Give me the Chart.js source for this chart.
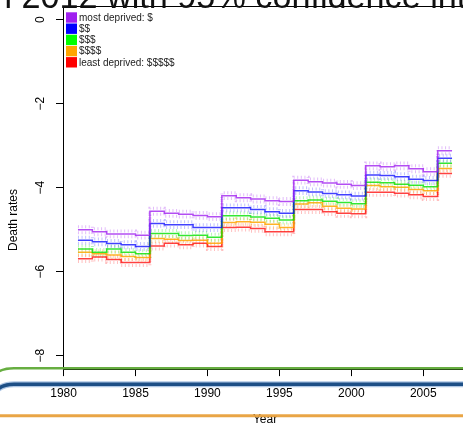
<!DOCTYPE html>
<html><head><meta charset="utf-8">
<script src="https://cdn.jsdelivr.net/npm/chart.js@4/dist/chart.umd.min.js"></script>
<style>
html,body{margin:0;padding:0;background:#fff;overflow:hidden;width:463px;height:423px}
#wrap{position:absolute;left:0;top:0;width:480px;height:430px}
</style></head><body>
<div id="wrap"><canvas id="c"></canvas></div>
<script>
// Step start years; the final entry closes the last step.
const years = [1981,1982,1983,1984,1985,1986,1987,1988,1989,1990,1991,1992,1993,1994,1995,
               1996,1997,1998,1999,2000,2001,2002,2003,2004,2005,2006,2007];

const seriesNames = ['most deprived: $', '$$', '$$$', '$$$$', 'least deprived: $$$$$'];

// Log death rates by deprivation quintile, one value per year 1981-2006
const quintile1 = [-5.00,-5.05,-5.10,-5.10,-5.13, -4.56,-4.61,-4.63,-4.66,-4.69, -4.19,-4.24,-4.27,-4.31,-4.33,
                   -3.82,-3.86,-3.89,-3.92,-3.95, -3.48,-3.50,-3.48,-3.55,-3.62, -3.12];
const quintile2 = [-5.25,-5.29,-5.33,-5.36,-5.40, -4.85,-4.88,-4.88,-4.95,-4.95, -4.48,-4.48,-4.52,-4.57,-4.61,
                   -4.07,-4.10,-4.14,-4.17,-4.20, -3.70,-3.71,-3.74,-3.80,-3.83, -3.30];
const quintile3 = [-5.46,-5.54,-5.46,-5.54,-5.57, -5.09,-5.09,-5.14,-5.13,-5.18, -4.67,-4.67,-4.70,-4.73,-4.77,
                   -4.31,-4.29,-4.32,-4.35,-4.38, -3.87,-3.88,-3.92,-3.94,-3.98, -3.42];
const quintile4 = [-5.54,-5.57,-5.60,-5.64,-5.66, -5.21,-5.23,-5.26,-5.25,-5.32, -4.83,-4.81,-4.82,-4.87,-4.95,
                   -4.39,-4.36,-4.44,-4.49,-4.51, -3.95,-3.98,-3.99,-4.04,-4.07, -3.54];
const quintile5 = [-5.69,-5.65,-5.71,-5.78,-5.78, -5.39,-5.32,-5.36,-5.32,-5.40, -4.95,-4.94,-4.97,-5.05,-5.05,
                   -4.52,-4.52,-4.57,-4.61,-4.62, -4.11,-4.11,-4.13,-4.17,-4.21, -3.66];

// Half-width of the 95% confidence band for each quintile
const ciHalfWidth = [0.07, 0.07, 0.07, 0.07, 0.07];

const xTickValues = [1980, 1985, 1990, 1995, 2000, 2005];
const xTickLabels = ['1980', '1985', '1990', '1995', '2000', '2005'];
const yTickValues = [0, -2, -4, -6, -8];
const yTickLabels = ['0', '\u22122', '\u22124', '\u22126', '\u22128'];

const lineColors = ['rgba(160,32,240,0.8)', 'rgba(0,0,255,0.75)', 'rgba(0,225,0,0.8)', 'rgba(255,165,0,0.85)', 'rgba(255,0,0,0.75)'];
const ciColors   = ['rgba(160,32,240,0.3)', 'rgba(0,0,255,0.25)', 'rgba(0,225,0,0.3)', 'rgba(255,165,0,0.35)', 'rgba(255,0,0,0.25)'];
const swatchColors = ['#A020F0', '#0000FF', '#00FF00', '#FFA500', '#FF0000'];

const allSeries = [quintile1, quintile2, quintile3, quintile4, quintile5];

function toPoints(vals, shift) {
  return years.map((yr, i) => ({ x: yr, y: vals[Math.min(i, vals.length - 1)] + shift }));
}

const datasets = [];
allSeries.forEach((vals, k) => {
  datasets.push({ label: seriesNames[k], data: toPoints(vals, 0), borderColor: lineColors[k],
    borderWidth: 1.5, stepped: 'before', pointRadius: 0, order: 0 });
});
allSeries.forEach((vals, k) => {
  [1, -1].forEach(sgn => {
    datasets.push({ label: '', data: toPoints(vals, sgn * ciHalfWidth[k]), borderColor: ciColors[k],
      borderWidth: 3, borderDash: [1, 2.6], stepped: 'before', pointRadius: 0, order: 1 });
  });
});

const FONT = '"Liberation Sans", Arial, Helvetica, sans-serif';

const decor = {
  id: 'decor',
  afterDraw(chart) {
    const ctx = chart.ctx, a = chart.chartArea, ys = chart.scales.y;
    ctx.save();
    // plot frame
    ctx.strokeStyle = '#000'; ctx.lineWidth = 1;
    ctx.strokeRect(Math.round(a.left) + 0.5, Math.round(a.top) + 0.5, Math.round(a.right - a.left), Math.round(a.bottom - a.top));

    // y tick labels, rotated
    ctx.fillStyle = '#000';
    ctx.font = '12px ' + FONT;
    ctx.textAlign = 'center'; ctx.textBaseline = 'middle';
    yTickValues.forEach((v, i) => {
      const py = ys.getPixelForValue(v);
      ctx.save(); ctx.translate(41, py); ctx.rotate(-Math.PI / 2);
      ctx.fillText(yTickLabels[i], 0, 0); ctx.restore();
    });
    // y axis title
    ctx.font = '12px ' + FONT;
    ctx.save(); ctx.translate(14, 220); ctx.rotate(-Math.PI / 2);
    ctx.fillText('Death rates', 0, 0); ctx.restore();

    // legend
    ctx.font = '10px ' + FONT;
    ctx.textAlign = 'left'; ctx.textBaseline = 'middle';
    seriesNames.forEach((name, i) => {
      const cy = 17.5 + i * 11.2;
      ctx.fillStyle = swatchColors[i];
      ctx.fillRect(66, cy - 5.2, 11, 10.4);
      ctx.fillStyle = '#222';
      ctx.fillText(name, 79, cy + 0.5);
    });

    // heading, sized so its lead-in runs across the page
    ctx.font = '30px ' + FONT;
    const lead = 'n 2012 with 95% confidence ';
    const size = 30 * 437 / ctx.measureText(lead).width;
    ctx.font = size.toFixed(1) + 'px ' + FONT;
    ctx.fillStyle = '#111';
    ctx.textAlign = 'left'; ctx.textBaseline = 'alphabetic';
    const head = 'in 2012 with 95% confidence intervals';
    ctx.fillText(head, -7 - ctx.measureText('i').width, 8);

    // coloured rules across the page
    ctx.lineCap = 'round';
    ctx.strokeStyle = 'rgba(95,170,55,0.95)'; ctx.lineWidth = 2.6;
    ctx.beginPath(); ctx.moveTo(-2, 372); ctx.quadraticCurveTo(4, 368.3, 14, 368.3); ctx.lineTo(500, 368.3); ctx.stroke();
    ctx.strokeStyle = 'rgba(120,160,210,0.6)'; ctx.lineWidth = 6;
    ctx.beginPath(); ctx.moveTo(-2, 389); ctx.quadraticCurveTo(4, 384.3, 14, 384.3); ctx.lineTo(500, 384.3); ctx.stroke();
    ctx.strokeStyle = '#1d4f86'; ctx.lineWidth = 3.6;
    ctx.beginPath(); ctx.moveTo(-2, 389); ctx.quadraticCurveTo(4, 384.3, 14, 384.3); ctx.lineTo(500, 384.3); ctx.stroke();
    ctx.strokeStyle = 'rgba(232,160,60,0.95)'; ctx.lineWidth = 3;
    ctx.beginPath(); ctx.moveTo(-2, 415.7); ctx.lineTo(500, 415.7); ctx.stroke();
    ctx.restore();
  }
};

new Chart(document.getElementById('c'), {
  type: 'line',
  data: { datasets },
  plugins: [decor],
  options: {
    responsive: true, maintainAspectRatio: false, animation: false,
    layout: { padding: { left: 0, right: 13, top: 6.3, bottom: 0 } },
    plugins: { legend: { display: false }, tooltip: { enabled: false } },
    scales: {
      x: {
        type: 'linear', min: 1979.96, max: 2008.04,
        afterBuildTicks: s => { s.ticks = xTickValues.map(v => ({ value: v })); },
        afterFit: s => { s.height = 60.9; },
        grid: { drawOnChartArea: false, drawTicks: true, tickLength: 7, color: '#000', tickWidth: 1 },
        border: { display: false },
        ticks: { color: '#000', autoSkip: false, maxRotation: 0, padding: 10,
                 font: { size: 12, family: FONT },
                 callback: (v) => xTickLabels[xTickValues.indexOf(v)] },
        title: { display: true, text: 'Year', color: '#000', font: { size: 12, family: FONT }, padding: { top: 0, bottom: 3 } }
      },
      y: {
        type: 'linear', min: -8.32, max: 0.32,
        afterBuildTicks: s => { s.ticks = yTickValues.map(v => ({ value: v })); },
        afterFit: s => { s.width = 63; },
        grid: { drawOnChartArea: false, drawTicks: true, tickLength: 7, color: '#000', tickWidth: 1 },
        border: { display: false },
        ticks: { display: false }
      }
    }
  }
});
</script>
</body></html>
